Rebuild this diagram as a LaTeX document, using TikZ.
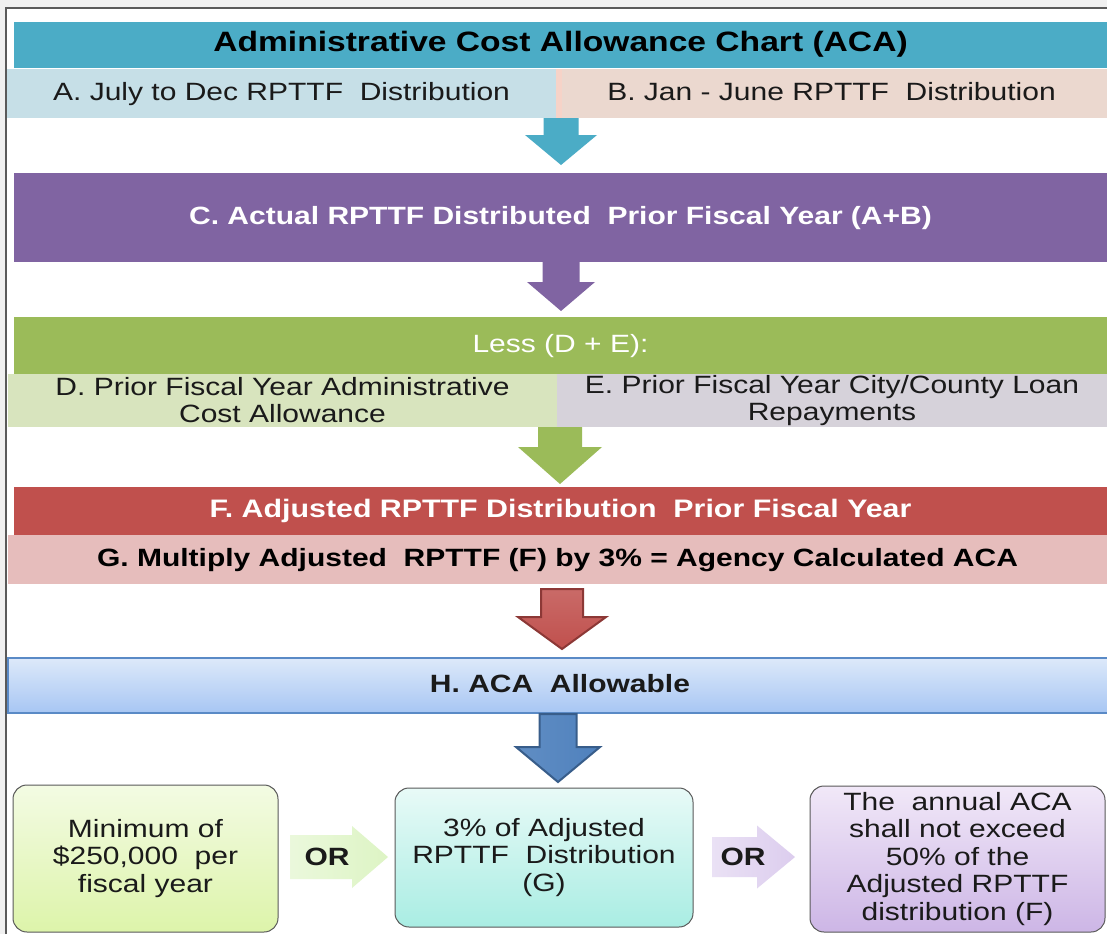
\documentclass[tikz,border=0pt]{standalone}
\usepackage{fontspec}
\setmainfont{Liberation Sans}[FakeStretch=1.2]
\usetikzlibrary{shadings}
\definecolor{teal1}{HTML}{4BACC6}
\definecolor{Acol}{HTML}{C6DFE7}
\definecolor{Bcol}{HTML}{EBD8CF}
\definecolor{Bstrip}{HTML}{F6D3C8}
\definecolor{purp}{HTML}{8064A2}
\definecolor{grn}{HTML}{9BBB59}
\definecolor{Dcol}{HTML}{D8E4BE}
\definecolor{Ecol}{HTML}{D6D2DA}
\definecolor{redc}{HTML}{C0504D}
\definecolor{redd}{HTML}{8C3836}
\definecolor{Gcol}{HTML}{E6BDBC}
\definecolor{Htop}{HTML}{DDE9FA}
\definecolor{Hbot}{HTML}{A7C6F3}
\definecolor{Hbord}{HTML}{5A8AC6}
\definecolor{bluec}{HTML}{4F81BD}
\definecolor{blued}{HTML}{385D8A}
\definecolor{b1top}{HTML}{F3FBE3}
\definecolor{b1bot}{HTML}{DDF4AA}
\definecolor{b2top}{HTML}{E8FAF7}
\definecolor{b2bot}{HTML}{A9EDE3}
\definecolor{b3top}{HTML}{F1E8F8}
\definecolor{b3bot}{HTML}{CDB6E6}
\definecolor{or1}{HTML}{DDF4C4}
\definecolor{or2}{HTML}{DCCDEE}
\definecolor{framec}{HTML}{5A5A5A}
\definecolor{txt}{HTML}{1A1A1A}
\newcommand\fsz[2]{\fontsize{#1}{#2}\selectfont}
\tikzset{
  bar/.style={rectangle, inner sep=0pt, outer sep=0pt, align=center, text=txt},
  oneline/.style={text height=18pt, text depth=5pt},
  box/.style={rectangle, rounded corners=14pt, draw=gray!70!black, line width=1pt, inner sep=0pt, align=center, text=txt, font=\fsz{25}{27.5}},
  blockarr/.style={line join=miter},
}
\newcommand\downarr[6]{(#1-#5,#2) -- (#1+#5,#2) -- (#1+#5,#3) -- (#1+#6,#3) -- (#1,#4) -- (#1-#6,#3) -- (#1-#5,#3) -- cycle}
\newcommand\rightarr[6]{(#2,#1-#5) -- (#3,#1-#5) -- (#3,#1-#6) -- (#4,#1) -- (#3,#1+#6) -- (#3,#1+#5) -- (#2,#1+#5) -- cycle}
\begin{document}
\begin{tikzpicture}[x=1pt,y=-1pt]
\useasboundingbox (0,0) rectangle (1107,934);
% frame
\fill[gray!12] (0,0) rectangle (1107,934);
\fill[white] (6,8) rectangle (1107,934);
\draw[framec, line width=1.5pt] (6,934) -- (6,8) -- (1107,8);

% top bars
\node[bar, oneline, fill=teal1, minimum width=1093, minimum height=46, font=\bfseries\fsz{28}{30}, text=black] (title) at (560.5,45) {Administrative Cost Allowance Chart (ACA)};
\node[bar, oneline, fill=Acol, minimum width=549, minimum height=49, font=\fsz{25}{28}] (A) at (281.5,93.5) {A. July to Dec RPTTF\ \ Distribution};
\node[bar, oneline, fill=Bcol, minimum width=551, minimum height=49, font=\fsz{25}{28}] (B) at (831.5,93.5) {B. Jan - June RPTTF\ \ Distribution};
\fill[Bstrip] (556,69) rectangle (562,118);

\fill[teal1] \downarr{561}{118}{135}{165}{17.5}{36};

\node[bar, oneline, fill=purp, minimum width=1093, minimum height=89, font=\bfseries\fsz{25}{28}, text=white] (C) at (560.5,217.5) {C. Actual RPTTF Distributed\ \ Prior Fiscal Year (A+B)};

\fill[purp] \downarr{561}{262}{282}{311}{18.5}{34};

\node[bar, oneline, fill=grn, minimum width=1093, minimum height=57, font=\fsz{25}{28}, text=white] (less) at (560.5,345.5) {Less (D + E):};
\node[bar, fill=Dcol, minimum width=549, minimum height=53, font=\fsz{25}{27}] (D) at (282.5,400.5) {D. Prior Fiscal Year Administrative\\Cost Allowance};
\node[bar, fill=Ecol, minimum width=550, minimum height=53, font=\fsz{25}{27}] (E) at (832,400.5) {E. Prior Fiscal Year City/County Loan\\Repayments};

\fill[grn] \downarr{560}{427}{447}{484}{22}{42};

\node[bar, oneline, fill=redc, minimum width=1093, minimum height=48, font=\bfseries\fsz{25.3}{28}, text=white] (F) at (560.5,511) {F. Adjusted RPTTF Distribution\ \ Prior Fiscal Year};
\node[bar, oneline, fill=Gcol, minimum width=1099, minimum height=49, font=\bfseries\fsz{25}{28}, text=black] (G) at (557.5,559.5) {G. Multiply Adjusted\ \ RPTTF (F) by 3\% = Agency Calculated ACA};

\shade[top color=redc!85!white, bottom color=redc, draw=redd, line width=2pt, blockarr] \downarr{562}{589}{617}{649}{21}{44};

\node[bar, oneline, top color=Htop, bottom color=Hbot, draw=Hbord, line width=1.5pt, minimum width=1104, minimum height=55, font=\bfseries\fsz{25}{28}, text=txt] (H) at (560,685.5) {H. ACA\ \ Allowable};

\shade[left color=bluec!90!white, right color=bluec, draw=blued, line width=2pt, blockarr] \downarr{558}{714}{747}{782}{18.5}{42};

% bottom boxes
\node[box, top color=b1top, bottom color=b1bot, minimum width=265, minimum height=147] (b1) at (145.5,858.5) {Minimum of\\\$250,000\ \ per\\fiscal year};
\node[box, top color=b2top, bottom color=b2bot, minimum width=298, minimum height=139] (b2) at (544,857.5) {3\% of Adjusted\\RPTTF\ \ Distribution\\(G)};
\node[box, top color=b3top, bottom color=b3bot, minimum width=295, minimum height=146] (b3) at (957.5,859) {The\ \ annual ACA\\shall not exceed\\50\% of the\\Adjusted RPTTF\\distribution (F)};

\shade[left color=or1!60!white, right color=or1, blockarr] \rightarr{857}{290}{352}{388}{22}{31};
\node[font=\bfseries\fsz{25}{28}, text=txt] (or1) at (327,857) {OR};
\shade[left color=or2!60!white, right color=or2, blockarr] \rightarr{857}{712}{757}{795}{20}{31.5};
\node[font=\bfseries\fsz{25}{28}, text=txt] (or2) at (743,857) {OR};
\end{tikzpicture}
\end{document}
